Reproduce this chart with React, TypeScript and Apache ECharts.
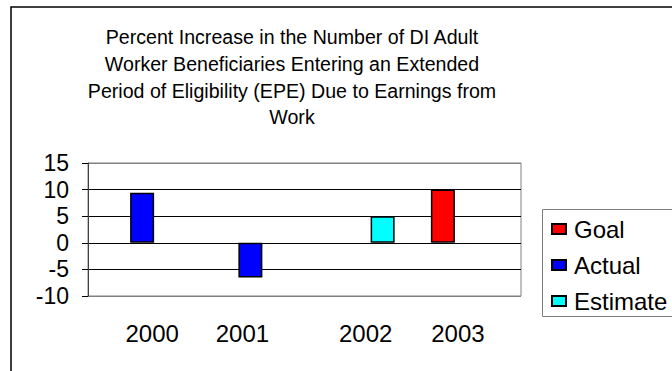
import React, { useEffect, useRef } from "react";
import * as echarts from "echarts";

const categories = ["2000", "2001", "2002", "2003"];
const goal = [null, null, null, 10];
const actual = [9.4, -6.5, null, null];
const estimate = [null, null, 5, null];
const seriesNames = ["Goal", "Actual", "Estimate"];
const titleLines = [
  "Percent Increase in the Number of DI Adult",
  "Worker Beneficiaries Entering an Extended",
  "Period of Eligibility (EPE) Due to Earnings from",
  "Work",
];

const FONT = 'Arial, "Liberation Sans", sans-serif';
// label paddings [top,right,bottom,left] to mimic the reference's label shifts
const labelPads = [
  [0, 0, 0, 20],
  [0, 16, 0, 0],
  [0, 0, 0, 14],
  [0, 18, 0, 0],
];

export default function App() {
  const ref = useRef<HTMLDivElement>(null);
  useEffect(() => {
    if (!ref.current) return;
    const chart = echarts.init(ref.current, undefined, { renderer: "svg" });
    const barStyle = (color: string) => ({
      color,
      borderColor: "#000",
      borderWidth: 1.5,
    });
    chart.setOption({
      animation: false,
      backgroundColor: "#fff",
      textStyle: { fontFamily: FONT },
      graphic: [
        {
          type: "rect",
          shape: { x: 11, y: 7, width: 720, height: 420 },
          style: { fill: "none", stroke: "#000", lineWidth: 1.5 },
          silent: true,
        },
        {
          type: "rect",
          shape: { x: 542.5, y: 209.5, width: 200, height: 107 },
          style: { fill: "none", stroke: "#808080", lineWidth: 1 },
          silent: true,
        },
        {
          type: "text",
          x: 292,
          y: 24,
          style: {
            text: titleLines.join("\n"),
            textAlign: "center",
            textVerticalAlign: "top",
            fontFamily: FONT,
            fontSize: 19.6,
            lineHeight: 26.7,
            fill: "#000",
          },
          silent: true,
        },
      ],
      legend: {
        orient: "vertical",
        left: 551,
        top: 217,
        padding: 0,
        itemGap: 12,
        itemWidth: 14,
        itemHeight: 10,
        icon: "rect",
        data: seriesNames,
        textStyle: {
          fontFamily: FONT,
          fontSize: 24,
          lineHeight: 24,
          color: "#000",
          padding: [0, 0, 0, 3],
        },
      },
      grid: {
        left: 88,
        right: 151,
        top: 163,
        bottom: 75,
        show: true,
        borderColor: "#808080",
        borderWidth: 1,
        backgroundColor: "transparent",
      },
      xAxis: {
        type: "category",
        data: categories.map((c, i) => ({
          value: c,
          textStyle: { padding: labelPads[i] },
        })),
        axisLine: { show: false },
        axisTick: { show: false },
        axisLabel: {
          margin: 25,
          fontSize: 24,
          color: "#000",
          fontFamily: FONT,
        },
        splitLine: { show: false },
      },
      yAxis: {
        type: "value",
        min: -10,
        max: 15,
        interval: 5,
        axisLine: { show: true, lineStyle: { color: "#404040", width: 1 } },
        axisTick: { show: true, length: 6, lineStyle: { color: "#000" } },
        axisLabel: {
          margin: 19,
          fontSize: 23,
          color: "#000",
          fontFamily: FONT,
        },
        splitLine: {
          show: true,
          lineStyle: {
            color: ["#808080", "#000", "#000", "#000", "#000", "#808080"],
            width: 1,
          },
        },
      },
      series: [
        {
          name: seriesNames[0],
          type: "bar",
          data: goal,
          barWidth: 24,
          barGap: "0%",
          itemStyle: barStyle("#FF0000"),
        },
        {
          name: seriesNames[1],
          type: "bar",
          data: actual,
          barWidth: 24,
          barGap: "0%",
          itemStyle: barStyle("#0000FF"),
        },
        {
          name: seriesNames[2],
          type: "bar",
          data: estimate,
          barWidth: 24,
          barGap: "0%",
          itemStyle: barStyle("#00FFFF"),
        },
      ],
    });
    return () => chart.dispose();
  }, []);
  return (
    <div
      ref={ref}
      style={{ position: "fixed", left: 0, top: 0, width: 672, height: 371 }}
    />
  );
}
